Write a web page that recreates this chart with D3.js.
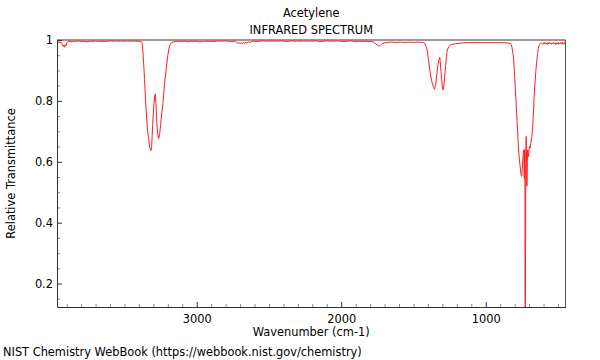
<!DOCTYPE html>
<html><head><meta charset="utf-8">
<script src="https://cdn.jsdelivr.net/npm/d3@7"></script>
<style>body{margin:0;background:#fff}svg{display:block}text{font-family:"DejaVu Sans",sans-serif;font-size:11.4px;fill:#000}</style>
</head><body><svg id="c" width="600" height="360"></svg>
<script>
const titleLines = ["Acetylene", "INFRARED SPECTRUM"];
const xLabel = "Wavenumber (cm-1)";
const yLabel = "Relative Transmittance";
const footer = "NIST Chemistry WebBook (https://webbook.nist.gov/chemistry)";
const xMajorTicks = [3000, 2000, 1000];
const xTickLabels = ["3000", "2000", "1000"];
const yMajorTicks = [1, 0.8, 0.6, 0.4, 0.2];
const yTickLabels = ["1", "0.8", "0.6", "0.4", "0.2"];
const xDomain = [3967, 448];
const yDomain = [0.123, 1];

const wavenumbers = [
3967,3960,3955,3950,3945,3940,3935,3930,3925,3920,3915,3910,3905,3900,3893,3885,3870,3855,3840,3820,3800,3780,3760,3740,3720,3700,3680,3660,3640,3620,3600,3580,3560,3540,3520,3500,3480,3460,3440,3420,3400,3390,
3385,3378,3373,3367,3361,3355,3349,3340,3331,3324,3317,3312,3305,3298,3292,3287,3282,3276,3270,3264,3258,3250,3242,3234,3222,3210,3200,3192,3184,3176,
3160,3140,3120,3100,3080,3060,3040,3020,3000,2980,2960,2940,2920,2900,2880,2860,2840,2820,2800,2780,2760,2740,2725,2715,2708,2700,2692,2685,2678,2670,2660,2650,2640,2630,2620,2600,2580,2560,2540,2520,2500,2480,2460,2440,2420,2400,2380,2360,2340,2320,2300,2280,2260,2240,2220,2200,2180,2160,2140,2120,2100,2080,2060,2040,2020,2000,1980,1960,1940,1920,1900,1880,1860,1840,1820,1800,
1780,1770,1760,1750,1740,1732,1724,1712,1700,1680,1650,1620,1590,1560,1530,1500,1470,1445,
1430,1424,1415,1405,1396,1387,1378,1370,1362,1354,1346,1338,1330,1324,1318,1312,1305,1300,1296,1290,1284,1278,1272,1266,1255,1243,1220,1185,1150,
1120,1090,1060,1030,1000,970,940,910,880,850,835,
826,818,808,800,792,786,780,775,769,763,757,752,748,745,741,738,735,733,731,729,727.5,725.5,723,720,717,715,712,710,707,704,700,697,693,688,682,676,670,665,659,653,647,641,636,630,622,613,
605,600,595,590,585,580,575,570,565,560,555,550,545,540,535,530,525,520,515,510,505,500,495,490,485,480,475,470,465,460,455,450,448
];
const transmittance = [
0.995,0.996,0.991,0.994,0.989,0.993,0.988,0.985,0.979,0.984,0.976,0.985,0.981,0.990,0.994,0.996,0.994,0.996,0.995,0.997,0.995,0.996,0.994,0.996,0.995,0.997,0.995,0.996,0.995,0.996,0.997,0.996,0.997,0.996,0.997,0.996,0.997,0.996,0.997,0.996,0.996,0.995,
0.995,0.99,0.967,0.92,0.87,0.81,0.76,0.70,0.672,0.645,0.637,0.65,0.72,0.78,0.81,0.823,0.79,0.73,0.69,0.676,0.685,0.72,0.76,0.79,0.86,0.91,0.95,0.973,0.986,0.991,
0.994,0.995,0.996,0.995,0.996,0.994,0.996,0.995,0.996,0.994,0.995,0.996,0.995,0.996,0.995,0.996,0.997,0.996,0.997,0.996,0.995,0.996,0.993,0.989,0.992,0.987,0.991,0.988,0.993,0.989,0.992,0.990,0.994,0.992,0.995,0.996,0.995,0.996,0.997,0.996,0.997,0.996,0.997,0.996,0.997,0.996,0.995,0.996,0.997,0.996,0.997,0.996,0.997,0.996,0.997,0.996,0.997,0.996,0.995,0.996,0.997,0.996,0.997,0.996,0.997,0.996,0.995,0.996,0.997,0.996,0.995,0.996,0.995,0.996,0.995,0.995,
0.994,0.991,0.987,0.983,0.980,0.981,0.985,0.989,0.991,0.992,0.993,0.992,0.993,0.992,0.993,0.992,0.993,0.992,
0.992,0.99,0.98,0.967,0.935,0.90,0.875,0.858,0.845,0.838,0.855,0.89,0.92,0.935,0.943,0.91,0.87,0.845,0.836,0.85,0.88,0.913,0.945,0.967,0.979,0.984,0.987,0.989,0.991,
0.992,0.991,0.992,0.991,0.992,0.991,0.992,0.991,0.991,0.990,0.989,
0.988,0.975,0.945,0.88,0.814,0.76,0.705,0.66,0.617,0.59,0.563,0.552,0.57,0.596,0.62,0.639,0.60,0.545,0.64,0.62,0.123,0.123,0.60,0.683,0.60,0.52,0.60,0.639,0.625,0.617,0.64,0.65,0.645,0.661,0.68,0.705,0.76,0.814,0.86,0.90,0.93,0.956,0.972,0.984,0.989,0.990,
0.986,0.991,0.987,0.992,0.988,0.990,0.985,0.991,0.988,0.993,0.987,0.990,0.986,0.991,0.988,0.992,0.987,0.990,0.985,0.991,0.988,0.992,0.986,0.990,0.987,0.991,0.988,0.993,0.986,0.990,0.988,0.996,0.999
];

const svg = d3.select("#c");
const L = 57, R = 565.5, T = 40, B = 307;
const FS = 11.4;
const x = d3.scaleLinear().domain(xDomain).range([L, R]);
const y = d3.scaleLinear().domain(yDomain).range([B, T]);

svg.append("defs").append("clipPath").attr("id","clip")
  .append("rect").attr("x",L).attr("y",T-2).attr("width",R-L).attr("height",B-T+2);

// top and right frame
svg.append("line").attr("x1",L).attr("x2",R).attr("y1",T).attr("y2",T).attr("stroke","#999").attr("stroke-width",2);
svg.append("line").attr("x1",R).attr("x2",R).attr("y1",T).attr("y2",B).attr("stroke","#555").attr("stroke-width",1);

// minor ticks
const xMinor = d3.range(500, 3901, 100).filter(v => !xMajorTicks.includes(v));
const yMinor = d3.range(0.15, 1.0, 0.05).map(v => +v.toFixed(2)).filter(v => !yMajorTicks.includes(v));
svg.append("g").attr("transform",`translate(0,${B})`)
  .call(d3.axisBottom(x).tickValues(xMinor).tickSize(-3).tickFormat(""))
  .call(g => g.select(".domain").remove())
  .call(g => g.selectAll("line").attr("stroke","#888"));
svg.append("g").attr("transform",`translate(${L},0)`)
  .call(d3.axisLeft(y).tickValues(yMinor).tickSize(-3).tickFormat(""))
  .call(g => g.select(".domain").remove())
  .call(g => g.selectAll("line").attr("stroke","#888"));

// major axes
const gx = svg.append("g").attr("transform",`translate(0,${B})`)
  .call(d3.axisBottom(x).tickValues(xMajorTicks).tickSize(-5).tickSizeOuter(0).tickPadding(8)
    .tickFormat((d,i) => xTickLabels[i]));
gx.select(".domain").attr("stroke","#333");
gx.selectAll("line").attr("stroke","#333");
gx.selectAll("text").attr("font-size",FS).attr("font-family","DejaVu Sans").attr("fill","#000");
const gy = svg.append("g").attr("transform",`translate(${L},0)`)
  .call(d3.axisLeft(y).tickValues(yMajorTicks).tickSize(-5).tickSizeOuter(0).tickPadding(4)
    .tickFormat((d,i) => yTickLabels[i]));
gy.select(".domain").attr("stroke","#333");
gy.selectAll("line").attr("stroke","#333");
gy.selectAll("text").attr("font-size",FS).attr("font-family","DejaVu Sans").attr("fill","#000");

// spectrum
const pts = wavenumbers.map((w,i) => [w, transmittance[i]]);
svg.append("path").datum(pts).attr("clip-path","url(#clip)")
  .attr("fill","none").attr("stroke","#ff2020").attr("stroke-width",1)
  .attr("d", d3.line().x(d => x(d[0])).y(d => y(d[1])));

// texts
const cx = (L + R) / 2;
svg.append("text").attr("x",cx).attr("y",17).attr("text-anchor","middle").text(titleLines[0]);
svg.append("text").attr("x",cx).attr("y",34).attr("text-anchor","middle").text(titleLines[1]);
svg.append("text").attr("x",cx).attr("y",336).attr("text-anchor","middle").text(xLabel);
svg.append("text").attr("transform",`translate(15,${(T+B)/2}) rotate(-90)`).attr("text-anchor","middle").text(yLabel);
svg.append("text").attr("x",3).attr("y",356).text(footer);
</script></body></html>
